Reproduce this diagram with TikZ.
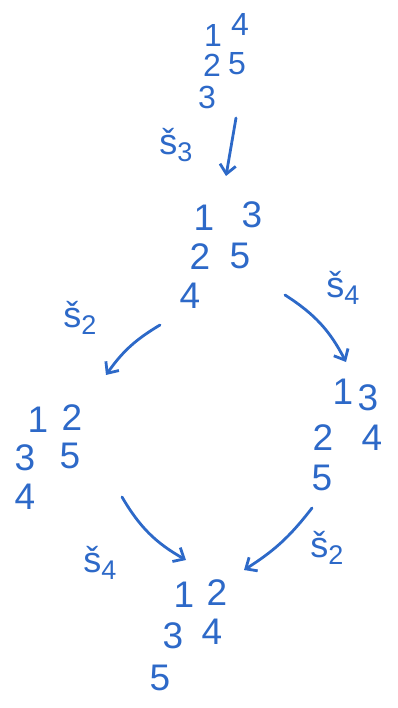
\documentclass[tikz,border=0pt]{standalone}
\usepackage{fontspec}
\setmainfont{Liberation Sans}
\usetikzlibrary{arrows.meta}
\definecolor{ink}{RGB}{45,105,200}
\tikzset{
  dig/.style={text=ink,inner sep=0pt,font=\fontsize{37}{37}\selectfont},
  smalldig/.style={dig,font=\fontsize{32}{32}\selectfont},
  lab/.style={text=ink,inner sep=0pt,font=\fontsize{36}{36}\selectfont},
  arr/.style={draw=ink,line width=2.8pt,line cap=round,-{Straight Barb[length=9pt,width=16pt,line width=2.8pt]}}
}
\newcommand{\sop}[1]{š\raisebox{-0.35ex}{\fontsize{27}{27}\selectfont #1}}
\begin{document}
\begin{tikzpicture}[x=1pt,y=-1pt]
\useasboundingbox (0,0) rectangle (398,708);
% top tableau
\node[smalldig] (a1) at (213,35) {1};
\node[smalldig] (a4) at (240,24) {4};
\node[smalldig] (a2) at (212,65) {2};
\node[smalldig] (a5) at (237,64) {5};
\node[smalldig] (a3) at (207,97) {3};
% middle tableau
\node[dig] (b1) at (204,218) {1};
\node[dig] (b3) at (252,215) {3};
\node[dig] (b2) at (200,257) {2};
\node[dig] (b5) at (240,256) {5};
\node[dig] (b4) at (190,296) {4};
% left tableau
\node[dig] (c1) at (38,420) {1};
\node[dig] (c2) at (72,418) {2};
\node[dig] (c3) at (25,458) {3};
\node[dig] (c5) at (70,456) {5};
\node[dig] (c4) at (25,497) {4};
% right tableau
\node[dig] (d1) at (343,392) {1};
\node[dig] (d3) at (368,398) {3};
\node[dig] (d2) at (323,438) {2};
\node[dig] (d4) at (372,438) {4};
\node[dig] (d5) at (322,478) {5};
% bottom tableau
\node[dig] (e1) at (184,595) {1};
\node[dig] (e2) at (217,593) {2};
\node[dig] (e3) at (173,636) {3};
\node[dig] (e4) at (212,632) {4};
\node[dig] (e5) at (160,678) {5};
% labels
\node[lab] (l1) at (176,145) {\sop{3}};
\node[lab] (l2) at (80,318) {\sop{2}};
\node[lab] (l3) at (343,288) {\sop{4}};
\node[lab] (l4) at (100,563) {\sop{4}};
\node[lab] (l5) at (327,548) {\sop{2}};
% arrow end points
\coordinate (p1s) at (236,118);
\coordinate (p1e) at (226,176);
\coordinate (p2s) at (160,325);
\coordinate (p2e) at (106,375);
\coordinate (p3s) at (285,295);
\coordinate (p3e) at (346,362);
\coordinate (p4s) at (122,497);
\coordinate (p4e) at (186,560);
\coordinate (p5s) at (312,508);
\coordinate (p5e) at (244,570);
\draw[arr] (p1s) -- (p1e);
\draw[arr] (p2s) to[bend right=12] (p2e);
\draw[arr] (p3s) to[bend left=15] (p3e);
\draw[arr] (p4s) to[bend right=15] (p4e);
\draw[arr] (p5s) to[bend left=10] (p5e);
\end{tikzpicture}
\end{document}
